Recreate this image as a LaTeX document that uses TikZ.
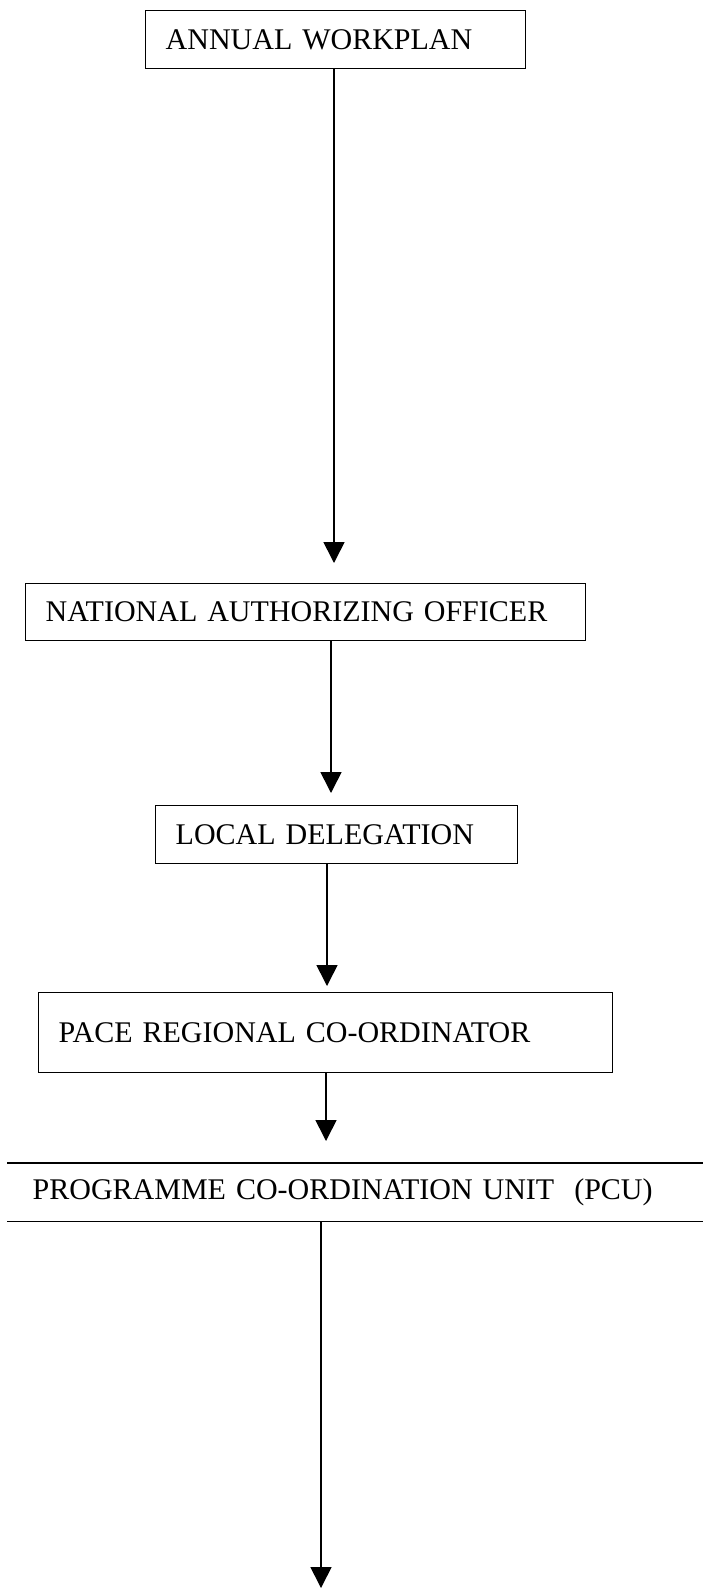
\documentclass[tikz,border=0pt]{standalone}
\usepackage{fontspec}
\setmainfont{Liberation Serif}
\usetikzlibrary{arrows.meta}
\begin{document}
\begin{tikzpicture}[x=1pt,y=-1pt,
  every node/.style={font=\fontsize{30}{35}\selectfont},
  box/.style={draw, line width=1.4pt, anchor=north west, align=left, inner xsep=20pt, inner ysep=0pt},
  arr/.style={line width=1.6pt, -{Triangle[width=21pt,length=21pt]}}]
\useasboundingbox (0,0) rectangle (703,1588);
\node[box, minimum height=58pt, text width=340pt] (b1) at (145,10) {ANNUAL WORKPLAN};
\node[box, minimum height=57pt, text width=520pt] (b2) at (25,583) {NATIONAL AUTHORIZING OFFICER};
\node[box, minimum height=58pt, text width=322pt] (b3) at (155,805) {LOCAL DELEGATION};
\node[box, minimum height=80pt, text width=534pt] (b4) at (38,992) {PACE REGIONAL CO-ORDINATOR};
\node[box, draw=none, minimum height=57pt, text width=646pt, inner xsep=25pt] (pcu) at (7,1163) {PROGRAMME CO-ORDINATION UNIT\ \ (PCU)};
\draw[line width=1.4pt] (pcu.north west) -- (pcu.north east);
\draw[line width=1.4pt] (pcu.south west) -- (pcu.south east);
\coordinate (end) at (321,1588);
\draw[arr, shorten >=20pt] (b1.south -| 334,0) -- (b2.north -| 334,0);
\draw[arr, shorten >=12pt] (b2.south -| 331,0) -- (b3.north -| 331,0);
\draw[arr, shorten >=6pt] (b3.south -| 327,0) -- (b4.north -| 327,0);
\draw[arr, shorten >=22pt] (b4.south -| 326,0) -- (pcu.north -| 326,0);
\draw[arr] (pcu.south -| end) -- (end);
\end{tikzpicture}
\end{document}
